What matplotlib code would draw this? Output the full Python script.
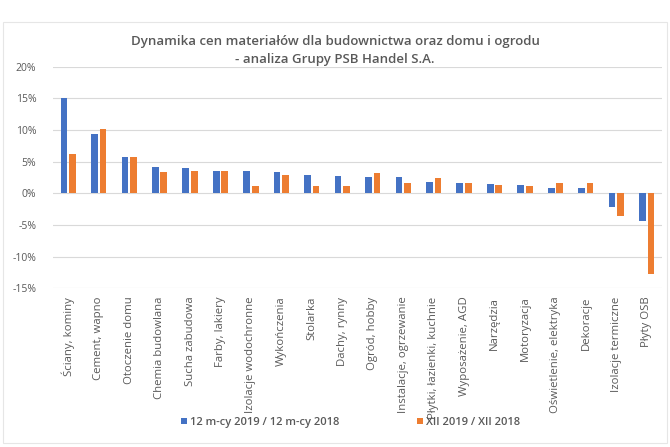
import matplotlib
matplotlib.use("Agg")
import matplotlib.pyplot as plt
import numpy as np
from matplotlib.patches import Rectangle

categories = ["Ściany, kominy", "Cement, wapno", "Otoczenie domu", "Chemia budowlana",
              "Sucha zabudowa", "Farby, lakiery", "Izolacje wodochronne", "Wykończenia",
              "Stolarka", "Dachy, rynny", "Ogród, hobby", "Instalacje, ogrzewanie",
              "Płytki, łazienki, kuchnie", "Wyposażenie, AGD", "Narzędzia", "Motoryzacja",
              "Oświetlenie, elektryka", "Dekoracje", "Izolacje termiczne", "Płyty OSB"]
series_12m = [15.0, 9.3, 5.8, 4.1, 4.0, 3.6, 3.5, 3.4, 2.9, 2.7, 2.6, 2.6, 1.8, 1.7,
              1.4, 1.3, 0.8, 0.8, -2.2, -4.4]
series_xii = [6.2, 10.2, 5.7, 3.4, 3.5, 3.6, 1.2, 2.9, 1.2, 1.2, 3.2, 1.7, 2.5, 1.7,
              1.3, 1.2, 1.7, 1.7, -3.6, -12.8]
label_12m = "12 m-cy 2019 / 12 m-cy 2018"
label_xii = "XII 2019 / XII 2018"
title = "Dynamika cen materiałów dla budownictwa oraz domu i ogrodu\n- analiza Grupy PSB Handel S.A."
yticks = [20, 15, 10, 5, 0, -5, -10, -15]

plt.rcParams['font.family'] = ['Open Sans', 'DejaVu Sans']
txt = '#595959'
blue = '#4472C4'
orange = '#ED7D31'

W, H = 670, 447
fig = plt.figure(figsize=(6.7, 4.47), dpi=100)
fig.patches.append(Rectangle((0.005, 0.01), 0.99, 0.94, transform=fig.transFigure,
                             fill=False, edgecolor='#E6E6E6', linewidth=0.8))
ax = fig.add_axes([53/W, 1-288.3/H, (662-53)/W, (288.3-66.7)/H])

x = np.arange(len(categories))
w = 0.22
ax.bar(x - w/2 - 0.03, series_12m, width=w, color=blue, zorder=3)
ax.bar(x + w/2 + 0.03, series_xii, width=w, color=orange, zorder=3)

ax.set_xlim(-0.5, len(categories) - 0.5)
ax.set_ylim(-15, 20)
ax.set_yticks(yticks)
ax.set_yticklabels([f"{v}%" for v in yticks], color=txt, fontsize=7.5)
ax.yaxis.grid(True, color='#D9D9D9', linewidth=0.8, zorder=0)
ax.set_xticks(x)
ax.set_xticklabels(categories, rotation=90, color=txt, fontsize=8.2, va='top')
ax.tick_params(axis='both', length=0)
ax.tick_params(axis='x', pad=6)
ax.tick_params(axis='y', pad=12)
for s in ax.spines.values():
    s.set_visible(False)

fig.text(0.5, 1-50/H, title, ha='center', va='center', fontsize=9.5,
         color=txt, fontweight='semibold', linespacing=1.5)

# legend (manual, so both entries share one baseline)
for col, lab, xpos in [(blue, label_12m, 181), (orange, label_xii, 417)]:
    fig.patches.append(Rectangle((xpos/W, 1-424/H), 6/W, 6/H, transform=fig.transFigure,
                                 facecolor=col, edgecolor='none'))
    fig.text((xpos+9)/W, 1-425/H, lab, ha='left', va='baseline', fontsize=8,
             color=txt, fontweight='semibold')

fig.savefig("out.png", dpi=100)
